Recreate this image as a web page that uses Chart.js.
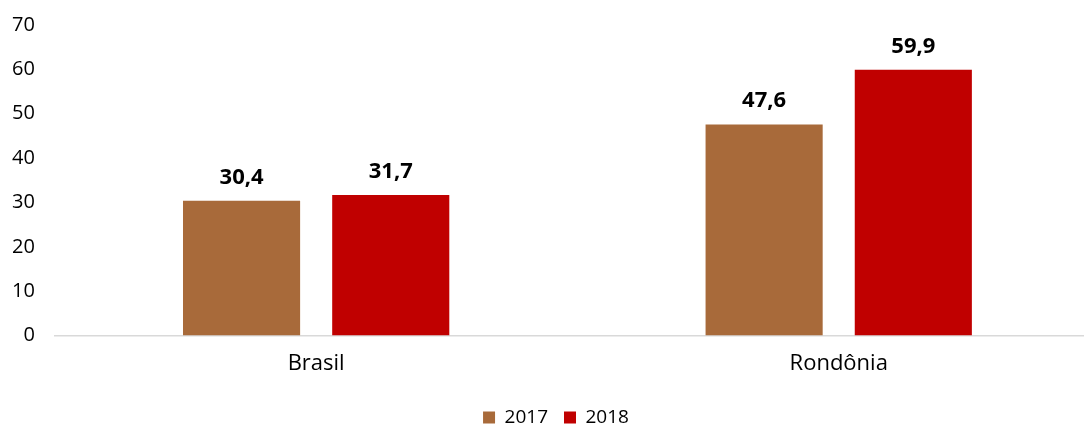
<!DOCTYPE html>
<html lang="pt-BR">
<head>
<meta charset="utf-8">
<title>Brasil e Rondônia, 2017-2018</title>
<script src="https://cdn.jsdelivr.net/npm/chart.js@4.4.1/dist/chart.umd.min.js"></script>
<style>
  html, body { margin: 0; padding: 0; background: #fff; width: 1084px; height: 426px; overflow: hidden; }
  #wrap { position: relative; width: 1100px; height: 437px; }
</style>
</head>
<body>
<div id="wrap"><canvas id="chart"></canvas></div>
<script>
// Values per region, one array per year
const regions = ['Brasil', 'Rondônia'];
const years = ['2017', '2018'];
const values2017 = [30.4, 47.6];
const values2018 = [31.7, 59.9];
const yTicks = [0, 10, 20, 30, 40, 50, 60, 70];

const FONT = '"Open Sans", "Liberation Sans", sans-serif';

// Portuguese decimal comma
const formatValue = v => v.toFixed(1).replace('.', ',');

// Bold value printed above every bar
const valueLabels = {
    id: 'valueLabels',
    afterDatasetsDraw(chart) {
        const ctx = chart.ctx;
        ctx.save();
        ctx.font = 'bold 22px ' + FONT;
        ctx.fillStyle = '#000000';
        ctx.textAlign = 'center';
        ctx.textBaseline = 'alphabetic';
        chart.data.datasets.forEach((ds, i) => {
            chart.getDatasetMeta(i).data.forEach((bar, j) => {
                ctx.fillText(formatValue(ds.data[j]), bar.x, bar.y - 17);
            });
        });
        ctx.restore();
    }
};

new Chart(document.getElementById('chart').getContext('2d'), {
    type: 'bar',
    data: {
        labels: regions,
        datasets: [
            { label: years[0], data: values2017, backgroundColor: '#A86A3A', borderWidth: 0 },
            { label: years[1], data: values2018, backgroundColor: '#C00000', borderWidth: 0 },
        ],
    },
    options: {
        responsive: true,
        maintainAspectRatio: false,
        animation: false,
        categoryPercentage: 0.571,
        barPercentage: 0.785,
        layout: { padding: { left: 12, right: 0, top: 25, bottom: 0 } },
        plugins: {
            legend: {
                position: 'bottom',
                labels: {
                    boxWidth: 12,
                    boxHeight: 12,
                    padding: 16,
                    color: '#000000',
                    font: { family: FONT, size: 19 },
                },
            },
            tooltip: { enabled: false },
        },
        scales: {
            x: {
                grid: { display: false, drawTicks: false },
                border: { display: true, color: '#D9D9D9', width: 1.5 },
                ticks: { color: '#000000', padding: 15, font: { family: FONT, size: 22 } },
            },
            y: {
                min: yTicks[0],
                max: yTicks[yTicks.length - 1],
                grid: { display: false, drawTicks: false },
                border: { display: false },
                ticks: { stepSize: yTicks[1] - yTicks[0], color: '#000000', padding: 20, font: { family: FONT, size: 20 } },
                // tick padding is counted twice by default; keep only the gap next to the plot
                afterFit: scale => {
                    scale.width -= scale.options.ticks.padding;
                    scale.paddingTop = 0;
                    scale.paddingBottom = 0;
                },
            },
        },
    },
    plugins: [valueLabels],
});
</script>
</body>
</html>
